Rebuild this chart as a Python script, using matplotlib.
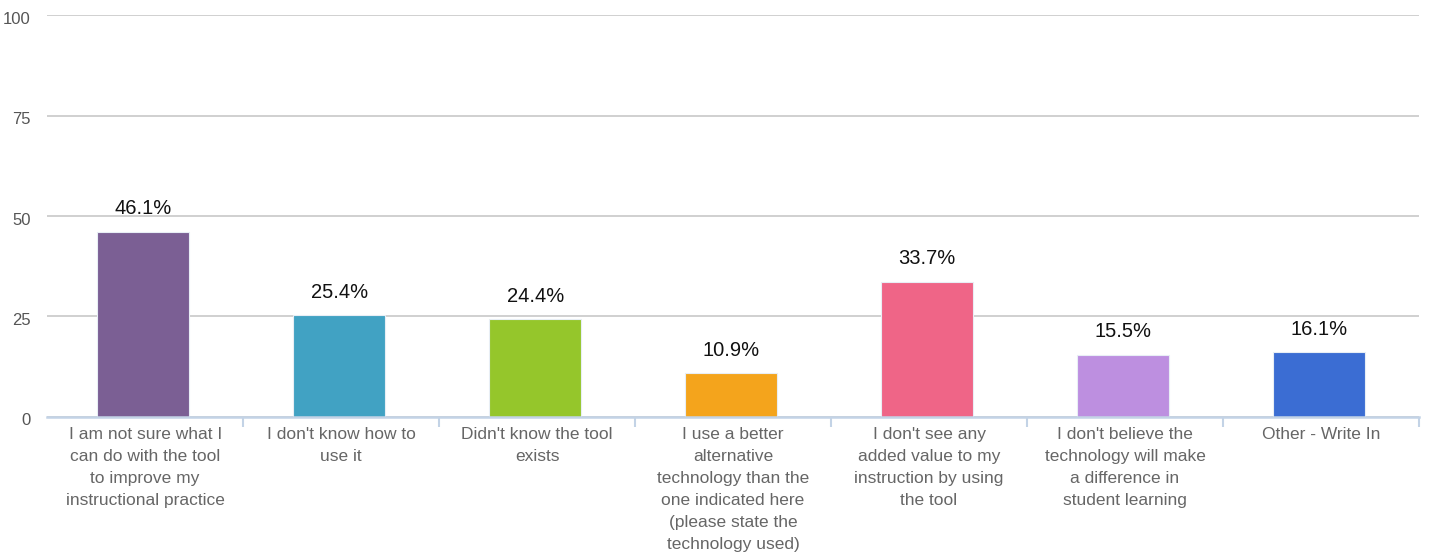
import matplotlib.pyplot as plt
import matplotlib.transforms as mtransforms
import numpy as np

plt.rcParams['font.family'] = ['Liberation Sans', 'DejaVu Sans']

# survey responses: reasons for not using the tool
categories = [
    "I am not sure what I\ncan do with the tool\nto improve my\ninstructional practice",
    "I don't know how to\nuse it",
    "Didn't know the tool\nexists",
    "I use a better\nalternative\ntechnology than the\none indicated here\n(please state the\ntechnology used)",
    "I don't see any\nadded value to my\ninstruction by using\nthe tool",
    "I don't believe the\ntechnology will make\na difference in\nstudent learning",
    "Other - Write In",
]
percent = [46.1, 25.4, 24.4, 10.9, 33.7, 15.5, 16.1]
colors = ["#7b5f94", "#41a2c3", "#95c62b", "#f4a41c", "#ef6587", "#bd8fe0", "#3b6dd3"]
yticks = [0, 25, 50, 75, 100]

fig = plt.figure(figsize=(14.29, 5.58), dpi=100)
ax = fig.add_axes([0.033, 0.2527, 0.96, 0.7204])

x = np.arange(len(categories))
bars = ax.bar(x - 0.01, percent, width=0.47, color=colors, edgecolor="#e8eef5", linewidth=0.8, zorder=3)

for rect, v in zip(bars, percent):
    ax.annotate(f"{v}%", (rect.get_x() + rect.get_width() / 2, v),
                xytext=(0, 12.5), textcoords="offset points",
                ha="center", va="baseline", fontsize=14.5, color="#111111")

ax.set_xlim(-0.5, len(categories) - 0.5)
ax.set_ylim(0, 100)
ax.set_yticks(yticks)
ax.set_yticklabels([str(t) for t in yticks])
ax.tick_params(axis="y", length=0, pad=12, labelsize=12, labelcolor="#555555")
# nudge the value labels on the y axis a little below their grid lines
shift = mtransforms.ScaledTranslation(0, -2.5 / 100, fig.dpi_scale_trans)
for lbl in ax.get_yticklabels():
    lbl.set_transform(lbl.get_transform() + shift)

ax.set_xticks(x)
ax.set_xticklabels(categories, fontsize=12.5, color="#666666", linespacing=1.58)
ax.tick_params(axis="x", which="major", length=0, pad=7)
ax.set_xticks(np.arange(0.5, len(categories), 1.0), minor=True)
ax.tick_params(axis="x", which="minor", length=7, width=1.5, color="#c3d3e6")

ax.grid(axis="y", color="#c8c8c8", linewidth=1.2, zorder=0)
for side in ("top", "right", "left"):
    ax.spines[side].set_visible(False)
ax.spines["bottom"].set_color("#c3d3e6")
ax.spines["bottom"].set_linewidth(1.8)
ax.spines["bottom"].set_zorder(4)

fig.savefig("out.png", dpi=100)
